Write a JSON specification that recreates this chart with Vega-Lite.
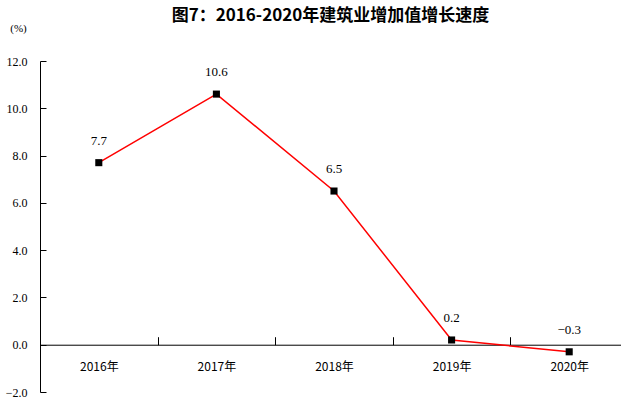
{
  "$schema": "https://vega.github.io/schema/vega-lite/v6.json",
  "width": 581,
  "height": 331,
  "autosize": {"type": "none"},
  "padding": {"left": 40, "top": 61, "right": 0, "bottom": 9},
  "background": "white",
  "title": {
    "text": "图7：2016-2020年建筑业增加值增长速度",
    "font": "Noto Sans CJK SC",
    "fontSize": 17,
    "fontWeight": "bold",
    "color": "black",
    "anchor": "middle",
    "frame": "group",
    "offset": -3
  },
  "config": {
    "view": {"stroke": null},
    "axis": {"labelFont": "Liberation Serif", "labelColor": "black", "domainColor": "black", "tickColor": "black", "grid": false}
  },
  "data": {
    "values": [
      {"year": "2016年", "rate": 7.7},
      {"year": "2017年", "rate": 10.6},
      {"year": "2018年", "rate": 6.5},
      {"year": "2019年", "rate": 0.2},
      {"year": "2020年", "rate": -0.3}
    ]
  },
  "encoding": {
    "x": {
      "field": "year",
      "type": "ordinal",
      "sort": null,
      "scale": {"type": "band", "range": [0, 588], "paddingInner": 0, "paddingOuter": 0},
      "axis": {
        "title": null,
        "labelAngle": 0,
        "labelFontSize": 12,
        "labelFont": "Noto Sans CJK SC",
        "tickBand": "extent",
        "tickSize": -8,
        "labelPadding": 25,
        "offset": {"expr": "scale('y', 0) - height"}
      }
    },
    "y": {
      "field": "rate",
      "type": "quantitative",
      "scale": {"domain": [-2, 12], "nice": false, "zero": false},
      "axis": {
        "values": [-2, 0, 2, 4, 6, 8, 10, 12],
        "format": ".1f",
        "labelFontSize": 12,
        "tickSize": -6,
        "labelPadding": 19,
        "title": "(%)",
        "titleAngle": 0,
        "titleFont": "Liberation Serif",
        "titleFontSize": 11,
        "titleFontWeight": "normal",
        "titleAlign": "center",
        "titleX": -22,
        "titleY": -28
      }
    }
  },
  "layer": [
    {"mark": {"type": "line", "color": "#ff0000", "strokeWidth": 1.5}},
    {"mark": {"type": "point", "shape": "square", "filled": true, "color": "black", "size": 50, "opacity": 1}},
    {
      "mark": {"type": "text", "dy": -22, "font": "Liberation Serif", "fontSize": 13, "color": "black"},
      "encoding": {"text": {"field": "rate", "type": "quantitative", "format": ".1f"}}
    }
  ]
}
